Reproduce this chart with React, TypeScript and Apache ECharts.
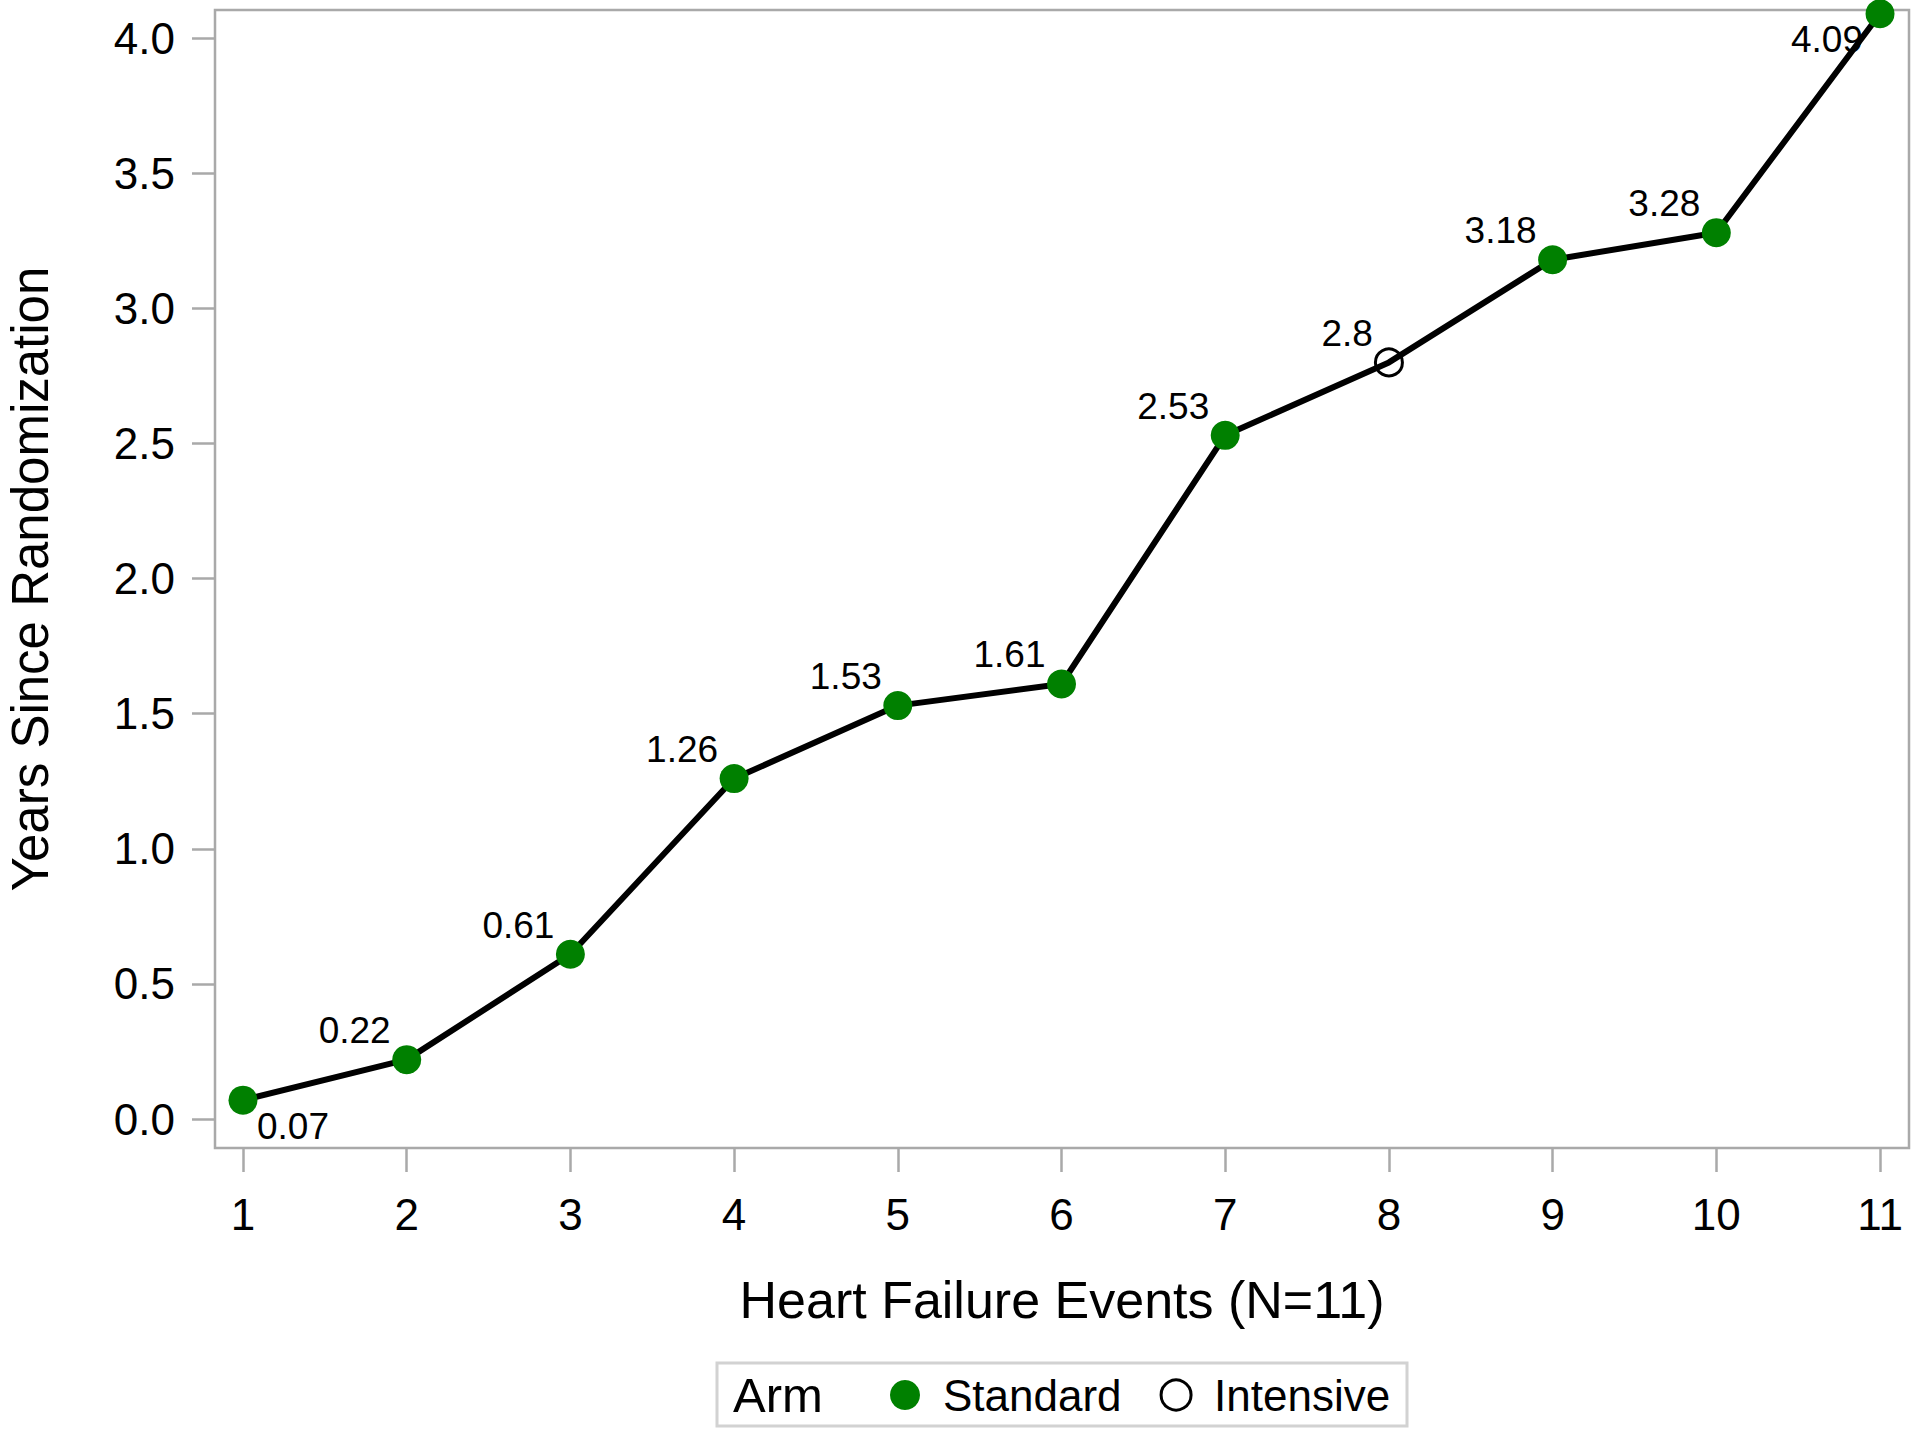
import React, { useEffect, useRef } from "react";
import * as echarts from "echarts";

const events = [1, 2, 3, 4, 5, 6, 7, 8, 9, 10, 11];
const years = [0.07, 0.22, 0.61, 1.26, 1.53, 1.61, 2.53, 2.8, 3.18, 3.28, 4.09];
const arms = ["Standard", "Standard", "Standard", "Standard", "Standard", "Standard", "Standard", "Intensive", "Standard", "Standard", "Standard"];
const xTicks = [1, 2, 3, 4, 5, 6, 7, 8, 9, 10, 11];
const yTicks = [0, 0.5, 1, 1.5, 2, 2.5, 3, 3.5, 4];

const FONT = "'Liberation Sans', Arial, sans-serif";
const GREEN = "#008000";
const FRAME = "#a9a9a9";

function labelFor(i: number) {
  if (i === 0) return { align: "left", verticalAlign: "middle", offset: [14, 26] };
  if (i === events.length - 1) return { align: "right", verticalAlign: "middle", offset: [-17, 26] };
  return { align: "right", verticalAlign: "middle", offset: [-16, -29] };
}

function pointsFor(arm: string) {
  const out: any[] = [];
  events.forEach((e, i) => {
    if (arms[i] !== arm) return;
    const l = labelFor(i);
    out.push({
      value: [e, years[i]],
      label: {
        show: true,
        position: "inside",
        formatter: String(years[i]),
        fontFamily: FONT,
        fontSize: 37,
        color: "#000",
        align: l.align,
        verticalAlign: l.verticalAlign,
        offset: l.offset,
      },
    });
  });
  return out;
}

export default function App() {
  const ref = useRef<HTMLDivElement>(null);
  useEffect(() => {
    if (!ref.current) return;
    const chart = echarts.init(ref.current, undefined, { renderer: "svg" });
    chart.setOption({
      animation: false,
      backgroundColor: "#fff",
      grid: {
        left: 215,
        top: 10,
        right: 11,
        bottom: 288,
        show: true,
        borderColor: FRAME,
        borderWidth: 2.5,
        backgroundColor: "transparent",
        containLabel: false,
        outerBoundsMode: "none",
      },
      xAxis: {
        type: "value",
        min: 0.829,
        max: 11.177,
        name: "Heart Failure Events (N=11)",
        nameLocation: "middle",
        nameGap: 152,
        nameTextStyle: { fontFamily: FONT, fontSize: 52, color: "#000", verticalAlign: "middle" },
        axisLine: { show: false, onZero: false },
        splitLine: { show: false },
        axisTick: {
          show: true,
          inside: false,
          length: 24,
          customValues: xTicks,
          lineStyle: { color: FRAME, width: 2.5 },
        },
        axisLabel: {
          customValues: xTicks,
          margin: 44,
          fontFamily: FONT,
          fontSize: 44,
          color: "#000",
          formatter: (v: number) => String(Math.round(v)),
        },
      },
      yAxis: {
        type: "value",
        min: -0.107,
        max: 4.104,
        name: "Years Since Randomization",
        nameLocation: "middle",
        nameGap: 185,
        nameTextStyle: { fontFamily: FONT, fontSize: 51, color: "#000", verticalAlign: "middle" },
        axisLine: { show: false, onZero: false },
        splitLine: { show: false },
        axisTick: {
          show: true,
          inside: false,
          length: 23,
          customValues: yTicks,
          lineStyle: { color: FRAME, width: 2.5 },
        },
        axisLabel: {
          customValues: yTicks,
          margin: 40,
          fontFamily: FONT,
          fontSize: 44,
          color: "#000",
          formatter: (v: number) => v.toFixed(1),
        },
      },
      legend: {
        left: 885,
        top: 1368,
        orient: "horizontal",
        itemWidth: 30,
        itemHeight: 30,
        itemGap: 38,
        textStyle: { fontFamily: FONT, fontSize: 44, color: "#000", padding: [0, 0, 0, 18] },
        data: [
          { name: "Standard", icon: "circle", itemStyle: { color: GREEN, borderWidth: 0, opacity: 1 } },
          {
            name: "Intensive",
            icon: "circle",
            itemStyle: { color: "#fff", borderColor: "#000", borderWidth: 3, opacity: 1 },
          },
        ],
      },
      graphic: [
        {
          type: "rect",
          shape: { x: 717, y: 1363, width: 690, height: 63 },
          style: { fill: "none", stroke: "#d2d2d2", lineWidth: 3 },
          z: 1,
        },
        {
          type: "text",
          x: 733,
          y: 1395,
          style: {
            text: "Arm",
            fontFamily: FONT,
            fontSize: 49,
            fill: "#000",
            textAlign: "left",
            textVerticalAlign: "middle",
          },
        },
      ],
      series: [
        {
          name: "Trend",
          type: "line",
          data: events.map((e, i) => [e, years[i]]),
          symbol: "none",
          lineStyle: { color: "#000", width: 6 },
          z: 2,
          silent: true,
        },
        {
          name: "Standard",
          type: "scatter",
          data: pointsFor("Standard"),
          symbol: "circle",
          symbolSize: 29,
          itemStyle: { color: GREEN, opacity: 1 },
          z: 3,
        },
        {
          name: "Intensive",
          type: "scatter",
          data: pointsFor("Intensive"),
          symbol: "circle",
          symbolSize: 27,
          itemStyle: { color: "rgba(0,0,0,0)", borderColor: "#000", borderWidth: 3, opacity: 1 },
          z: 3,
        },
      ],
    });
    return () => chart.dispose();
  }, []);
  return (
    <div
      ref={ref}
      style={{ position: "fixed", left: 0, top: 0, width: 1920, height: 1436 }}
    />
  );
}
